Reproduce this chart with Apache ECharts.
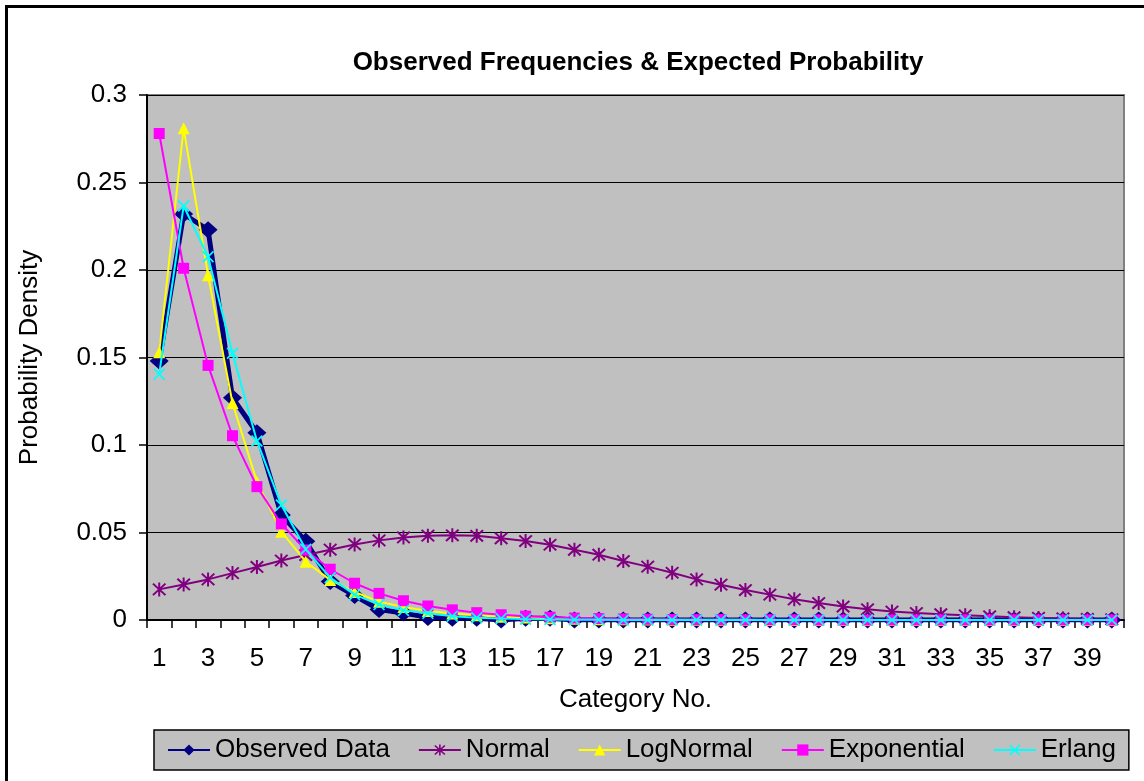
<!DOCTYPE html>
<html>
<head>
<meta charset="utf-8">
<script src="https://cdn.jsdelivr.net/npm/echarts@6/dist/echarts.min.js"></script>
<style>
  html, body { margin: 0; padding: 0; background: #ffffff; }
  #chart { width: 1144px; height: 781px; }
</style>
</head>
<body>
<div id="chart"></div>
<script>
// Category numbers along the x axis
const categories = [
  '1','2','3','4','5','6','7','8','9','10',
  '11','12','13','14','15','16','17','18','19','20',
  '21','22','23','24','25','26','27','28','29','30',
  '31','32','33','34','35','36','37','38','39','40'
];

// Observed relative frequencies
const observedData = [
  0.148, 0.232, 0.223, 0.127, 0.107, 0.060, 0.045, 0.022, 0.014, 0.006,
  0.004, 0.0015, 0.001, 0.001, 0.0, 0.001, 0.001, 0.0, 0.0, 0.0,
  0.0, 0.0, 0.0, 0.0, 0.0, 0.0, 0.0, 0.0, 0.0, 0.0,
  0.0, 0.0, 0.0, 0.0, 0.0, 0.0, 0.0, 0.0, 0.0, 0.0
];

// Expected probabilities, normal fit
const normalData = [
  0.0175, 0.0203, 0.0232, 0.0268, 0.0303, 0.0340, 0.0371, 0.0402, 0.0432, 0.0455,
  0.0472, 0.0482, 0.0484, 0.0481, 0.0467, 0.0451, 0.0430, 0.0401, 0.0373, 0.0337,
  0.0305, 0.0270, 0.0232, 0.0202, 0.0171, 0.0145, 0.0118, 0.0097, 0.0077, 0.0061,
  0.0048, 0.0040, 0.0033, 0.0027, 0.0021, 0.0016, 0.0012, 0.0009, 0.0006, 0.0004
];

// Expected probabilities, log-normal fit
const logNormalData = [
  0.153, 0.281, 0.197, 0.124, 0.079, 0.0505, 0.0333, 0.0229, 0.016, 0.0105,
  0.0075, 0.0052, 0.0037, 0.0027, 0.0019, 0.0014, 0.0010, 0.0007, 0.0005, 0.0004,
  0.0003, 0.0002, 0.0001, 0.0001, 0.0001, 0.0, 0.0, 0.0, 0.0, 0.0,
  0.0, 0.0, 0.0, 0.0, 0.0, 0.0, 0.0, 0.0, 0.0, 0.0
];

// Expected probabilities, exponential fit
const exponentialData = [
  0.278, 0.201, 0.1455, 0.1053, 0.0762, 0.0549, 0.040, 0.029, 0.021, 0.0152,
  0.011, 0.0080, 0.0058, 0.0042, 0.0030, 0.0022, 0.0016, 0.0011, 0.0008, 0.0006,
  0.0004, 0.0003, 0.0002, 0.0002, 0.0001, 0.0001, 0.0001, 0.0, 0.0, 0.0,
  0.0, 0.0, 0.0, 0.0, 0.0, 0.0, 0.0, 0.0, 0.0, 0.0
];

// Expected probabilities, Erlang fit
const erlangData = [
  0.1405, 0.2366, 0.2076, 0.1524, 0.1023, 0.0657, 0.0404, 0.0242, 0.0145, 0.0088,
  0.0055, 0.0038, 0.0022, 0.0013, 0.0008, 0.0005, 0.0003, 0.0002, 0.0001, 0.0,
  0.0, 0.0, 0.0, 0.0, 0.0, 0.0, 0.0, 0.0, 0.0, 0.0,
  0.0, 0.0, 0.0, 0.0, 0.0, 0.0, 0.0, 0.0, 0.0, 0.0
];

// Marker shapes: an asterisk (vertical bar plus two diagonals) and an X
const asteriskPath = 'path://M4.35,0 L5.65,0 L5.65,10 L4.35,10 Z ' +
  'M0.45,1.4 L1.4,0.45 L9.55,8.6 L8.6,9.55 Z ' +
  'M8.6,0.45 L9.55,1.4 L1.4,9.55 L0.45,8.6 Z';
const crossPath = 'path://M1.0,0 L10,9.0 L9.0,10 L0,1.0 Z M9.0,0 L10,1.0 L1.0,10 L0,9.0 Z';

const FONT = '"Liberation Sans", Arial, sans-serif';

const chart = echarts.init(document.getElementById('chart'), null, { renderer: 'canvas' });

function lineSeries(name, data, color, width, symbol, size, z) {
  return {
    name: name,
    type: 'line',
    data: data,
    symbol: symbol,
    symbolSize: size,
    showSymbol: true,
    showAllSymbol: true,
    z: z,
    lineStyle: { color: color, width: width },
    itemStyle: { color: color, borderWidth: 0 },
    emphasis: { disabled: true }
  };
}

chart.setOption({
  animation: false,
  backgroundColor: '#ffffff',
  textStyle: { fontFamily: FONT, color: '#000' },
  graphic: [{
    type: 'rect',
    shape: { x: 6.5, y: 6.5, width: 1300, height: 1000 },
    style: { fill: 'none', stroke: '#000', lineWidth: 3 },
    silent: true,
    z: 100
  }],
  title: {
    text: 'Observed Frequencies & Expected Probability',
    left: 633,
    top: 45,
    textAlign: 'center',
    textStyle: { fontFamily: FONT, fontSize: 26, fontWeight: 'bold', color: '#000' }
  },
  grid: {
    left: 147, right: 20, top: 95, bottom: 161,
    show: true,
    backgroundColor: '#C0C0C0',
    borderColor: '#808080',
    borderWidth: 2
  },
  legend: {
    left: 154,
    top: 730,
    orient: 'horizontal',
    backgroundColor: '#C0C0C0',
    borderColor: '#000',
    borderWidth: 1.5,
    borderRadius: 0,
    padding: [7, 13, 7, 13],
    itemGap: 28,
    itemWidth: 42,
    itemHeight: 14,
    textStyle: { fontFamily: FONT, fontSize: 26, color: '#000' },
    data: ['Observed Data', 'Normal', 'LogNormal', 'Exponential', 'Erlang']
  },
  xAxis: {
    type: 'category',
    data: categories,
    boundaryGap: true,
    name: 'Category No.',
    nameLocation: 'middle',
    nameGap: 67,
    nameTextStyle: { fontFamily: FONT, fontSize: 26, color: '#000' },
    axisLine: { show: true, onZero: false, lineStyle: { color: '#000', width: 2 } },
    axisTick: { show: true, interval: 0, alignWithLabel: false, length: 8, lineStyle: { color: '#000', width: 1.5 } },
    axisLabel: { interval: 1, margin: 26, fontFamily: FONT, fontSize: 26, color: '#000' },
    splitLine: { show: false }
  },
  yAxis: {
    type: 'value',
    min: 0,
    max: 0.3,
    interval: 0.05,
    name: 'Probability Density',
    nameLocation: 'middle',
    nameGap: 104,
    nameTextStyle: { fontFamily: FONT, fontSize: 26, color: '#000' },
    axisLine: { show: true, lineStyle: { color: '#000', width: 2 } },
    axisTick: { show: true, length: 8, lineStyle: { color: '#000', width: 1.5 } },
    axisLabel: { margin: 20, fontFamily: FONT, fontSize: 26, color: '#000' },
    splitLine: { show: true, lineStyle: { color: '#000', width: 1.2 } }
  },
  series: [
    lineSeries('Observed Data', observedData, '#000080', 5, 'diamond', [19, 17], 2),
    lineSeries('Normal', normalData, '#800080', 2, asteriskPath, 14, 3),
    lineSeries('LogNormal', logNormalData, '#FFFF00', 2, 'triangle', 12, 4),
    lineSeries('Exponential', exponentialData, '#FF00FF', 2, 'rect', 11, 5),
    lineSeries('Erlang', erlangData, '#00FFFF', 2, crossPath, 12, 6)
  ]
});
</script>
</body>
</html>
